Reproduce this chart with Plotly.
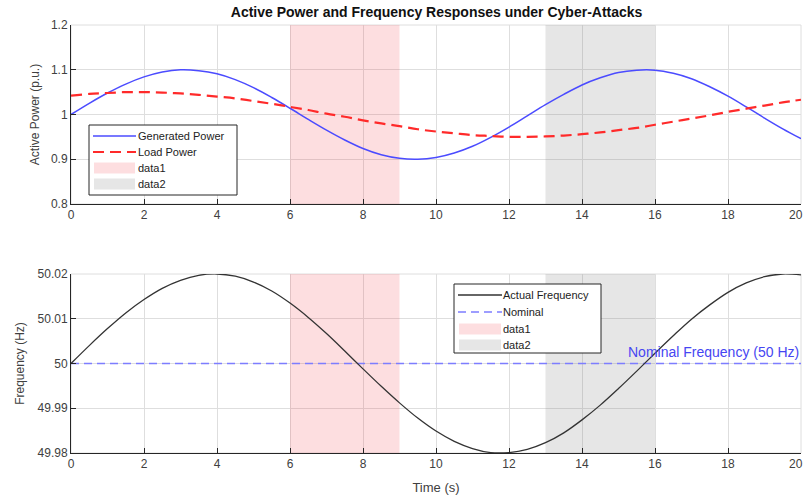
import plotly.graph_objects as go

# Time base (s)
time_s = [i * 0.5 for i in range(41)]

# Active power responses (p.u.)
generated_power = [
    1.000, 1.025, 1.048, 1.068, 1.084, 1.095, 1.100, 1.098, 1.091, 1.078,
    1.060, 1.038, 1.014, 0.989, 0.965, 0.943, 0.924, 0.910, 0.902, 0.900,
    0.904, 0.914, 0.929, 0.949, 0.972, 0.997, 1.022, 1.045, 1.066, 1.082,
    1.094, 1.099, 1.099, 1.092, 1.080, 1.062, 1.041, 1.017, 0.992, 0.968,
    0.946,
]
load_power = [
    1.042, 1.046, 1.048, 1.050, 1.050, 1.049, 1.047, 1.044, 1.040, 1.036,
    1.030, 1.024, 1.017, 1.010, 1.002, 0.995, 0.987, 0.980, 0.974, 0.967,
    0.962, 0.958, 0.954, 0.952, 0.950, 0.950, 0.951, 0.953, 0.956, 0.960,
    0.965, 0.970, 0.977, 0.984, 0.991, 0.998, 1.006, 1.013, 1.020, 1.027,
    1.033,
]

# Grid frequency (Hz)
actual_frequency = [
    50.0000, 50.0040, 50.0078, 50.0113, 50.0143, 50.0168, 50.0186, 50.0197,
    50.0200, 50.0195, 50.0182, 50.0162, 50.0135, 50.0103, 50.0067, 50.0028,
    49.9988, 49.9949, 49.9912, 49.9878, 49.9849, 49.9826, 49.9810, 49.9801,
    49.9801, 49.9808, 49.9823, 49.9845, 49.9874, 49.9907, 49.9944, 49.9983,
    50.0023, 50.0062, 50.0099, 50.0131, 50.0159, 50.0180, 50.0194, 50.0200,
    50.0198,
]
nominal_frequency = 50.0

# Attack windows (s)
attack_windows = [(6, 9), (13, 16)]
attack_names = ["data1", "data2"]

# Axis settings
x_range = [0, 20]
x_ticks = list(range(0, 21, 2))
x_ticktext = [str(t) for t in x_ticks]
power_range = [0.8, 1.2]
power_ticks = [0.8, 0.9, 1.0, 1.1, 1.2]
power_ticktext = ["0.8", "0.9", "1", "1.1", "1.2"]
freq_range = [49.98, 50.02]
freq_ticks = [49.98, 49.99, 50.0, 50.01, 50.02]
freq_ticktext = ["49.98", "49.99", "50", "50.01", "50.02"]

FONT = "Liberation Sans, Arial, sans-serif"
AXIS_COLOR = "#262626"
TICK_COLOR = "#404040"
GRID_COLOR = "#dedede"
WINDOW_COLORS = ["rgba(245,60,70,0.17)", "rgba(120,120,120,0.19)"]
GEN_STYLE = dict(color="#4b4bff", width=1.5)
LOAD_STYLE = dict(color="#ff2a2a", width=2.2, dash="11px,6px")
FREQ_STYLE = dict(color="#333333", width=1.3)
NOM_STYLE = dict(color="#7d7dff", width=1.4, dash="8px,5px")

# Figure geometry (pixels) used for the hand-built legend boxes
W, H = 806, 497
ML, MR, MT, MB = 71, 5, 25, 44
PW, PH = W - ML - MR, H - MT - MB


def px(x):
    return (x - ML) / PW


def py(y):
    return (H - MB - y) / PH


fig = go.Figure()


def add_windows(xa, ya, yr):
    for (t0, t1), name, col in zip(attack_windows, attack_names, WINDOW_COLORS):
        fig.add_trace(go.Scatter(
            x=[t0, t1, t1, t0, t0], y=[yr[0], yr[0], yr[1], yr[1], yr[0]],
            xaxis=xa, yaxis=ya, mode="lines", fill="toself", fillcolor=col,
            line=dict(width=0, color=col), name=name, showlegend=False,
            hoverinfo="skip",
        ))


# Top panel: active power
add_windows("x", "y", power_range)
fig.add_trace(go.Scatter(
    x=time_s, y=generated_power, xaxis="x", yaxis="y", mode="lines",
    line=dict(shape="spline", **GEN_STYLE), name="Generated Power",
    showlegend=False,
))
fig.add_trace(go.Scatter(
    x=time_s, y=load_power, xaxis="x", yaxis="y", mode="lines",
    line=dict(shape="spline", **LOAD_STYLE), name="Load Power",
    showlegend=False,
))

# Bottom panel: frequency
add_windows("x2", "y2", freq_range)
fig.add_trace(go.Scatter(
    x=x_range, y=[nominal_frequency, nominal_frequency], xaxis="x2", yaxis="y2",
    mode="lines", line=NOM_STYLE, name="Nominal", showlegend=False,
))
fig.add_trace(go.Scatter(
    x=time_s, y=actual_frequency, xaxis="x2", yaxis="y2", mode="lines",
    line=dict(shape="spline", **FREQ_STYLE), name="Actual Frequency",
    showlegend=False,
))

fig.add_annotation(
    x=x_range[1], y=nominal_frequency, xref="x2", yref="y2",
    text="Nominal Frequency (50 Hz)", showarrow=False,
    xanchor="right", yanchor="bottom", yshift=2,
    font=dict(family=FONT, size=14, color="#4646f2"),
)

# The last time label sits flush against the right edge of the figure
for xa, ya in (("x", "y"), ("x2", "y2")):
    fig.add_annotation(
        x=x_range[1], y=0, xref=xa, yref=f"{ya} domain",
        text=x_ticktext[-1], showarrow=False, xanchor="right", yanchor="top",
        xshift=4, yshift=-2, font=dict(family=FONT, size=12, color=TICK_COLOR),
    )

# Light frame on the open top/right sides of each panel
for xa, ya in (("x", "y"), ("x2", "y2")):
    fig.add_shape(type="rect", xref=f"{xa} domain", yref=f"{ya} domain",
                  x0=0, x1=1, y0=0, y1=1, layer="below",
                  line=dict(color=GRID_COLOR, width=1))


def add_legend(box, rows, text_x, sample_x):
    x0, y0, x1, y1 = box
    fig.add_shape(type="rect", xref="paper", yref="paper",
                  x0=px(x0), x1=px(x1), y0=py(y0), y1=py(y1),
                  line=dict(color=AXIS_COLOR, width=1), fillcolor="white",
                  layer="above")
    for label, kind, style, yc in rows:
        if kind == "line":
            fig.add_shape(type="line", xref="paper", yref="paper",
                          x0=px(sample_x[0]), x1=px(sample_x[1]),
                          y0=py(yc), y1=py(yc), line=style, layer="above")
        else:
            fig.add_shape(type="rect", xref="paper", yref="paper",
                          x0=px(sample_x[0] + 1), x1=px(sample_x[1] - 1),
                          y0=py(yc - 5.5), y1=py(yc + 5.5),
                          line=dict(width=0), fillcolor=style, layer="above")
        fig.add_annotation(x=px(text_x), y=py(yc), xref="paper", yref="paper",
                           text=label, showarrow=False, xanchor="left",
                           yanchor="middle",
                           font=dict(family=FONT, size=11, color="#222222"))


add_legend(
    (89, 125, 237, 195),
    [("Generated Power", "line", GEN_STYLE, 136),
     ("Load Power", "line", LOAD_STYLE, 152),
     (attack_names[0], "rect", WINDOW_COLORS[0], 168),
     (attack_names[1], "rect", WINDOW_COLORS[1], 184)],
    text_x=136, sample_x=(93, 136),
)
add_legend(
    (454, 284, 601, 353),
    [("Actual Frequency", "line", FREQ_STYLE, 295),
     ("Nominal", "line", NOM_STYLE, 312),
     (attack_names[0], "rect", WINDOW_COLORS[0], 329),
     (attack_names[1], "rect", WINDOW_COLORS[1], 345)],
    text_x=501, sample_x=(458, 502),
)

axis_common = dict(
    showline=True, linecolor=AXIS_COLOR, linewidth=1, mirror=False,
    ticks="inside", ticklen=5, tickcolor=AXIS_COLOR,
    showgrid=True, gridcolor=GRID_COLOR, gridwidth=1, zeroline=False,
    automargin=False,
    tickfont=dict(family=FONT, size=12, color=TICK_COLOR),
)
# x labels: the final one is placed separately above
x_axis_labels = x_ticktext[:-1] + [""]

fig.update_layout(
    width=W, height=H,
    margin=dict(l=ML, r=MR, t=MT, b=MB, autoexpand=False),
    paper_bgcolor="white", plot_bgcolor="white",
    font=dict(family=FONT, color=TICK_COLOR),
    showlegend=False,
    title=dict(
        text="<b>Active Power and Frequency Responses under Cyber-Attacks</b>",
        x=0.5417, xanchor="center", y=0.975, yanchor="middle",
        font=dict(family=FONT, size=14, color="#111111"),
    ),
    xaxis=dict(domain=[0, 1], range=x_range, tickvals=x_ticks,
               ticktext=x_axis_labels, anchor="y", **axis_common),
    yaxis=dict(domain=[py(204), 1], range=power_range, tickvals=power_ticks,
               ticktext=power_ticktext, anchor="x",
               title=dict(text="Active Power (p.u.)", standoff=8,
                          font=dict(family=FONT, size=12, color=TICK_COLOR)),
               **axis_common),
    xaxis2=dict(domain=[0, 1], range=x_range, tickvals=x_ticks,
                ticktext=x_axis_labels, anchor="y2",
                title=dict(text="Time (s)", standoff=12,
                           font=dict(family=FONT, size=13, color=TICK_COLOR)),
                **axis_common),
    yaxis2=dict(domain=[0, py(274)], range=freq_range, tickvals=freq_ticks,
                ticktext=freq_ticktext, anchor="x2",
                title=dict(text="Frequency (Hz)", standoff=10,
                           font=dict(family=FONT, size=12, color=TICK_COLOR)),
                **axis_common),
)

fig.write_html("out.html")
